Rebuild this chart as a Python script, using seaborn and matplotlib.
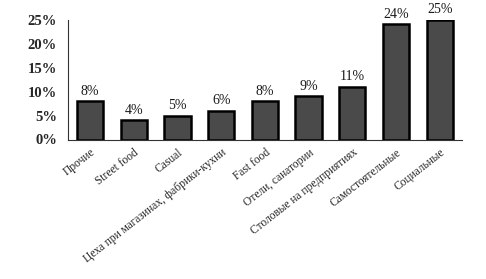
import numpy as np
import matplotlib
matplotlib.use("Agg")
import matplotlib.pyplot as plt
import matplotlib.ticker as mticker
import seaborn as sns

categories = ["Прочие", "Street food", "Casual",
              "Цеха при магазинах, фабрики-кухни", "Fast food",
              "Отели, санатории", "Столовые на предприятиях",
              "Самостоятельные", "Социальные"]
values = [8, 4, 5, 6, 8, 9, 11, 24, 25]

sns.set_style("white")
plt.rcParams['font.family'] = ['Liberation Serif', 'DejaVu Serif']

fig = plt.figure(figsize=(4.86, 2.79), dpi=100)
ax = fig.add_axes([0.14, 0.50, 0.81, 0.43])

sns.barplot(x=categories, y=values, color="#4a4a4a", edgecolor="black",
            linewidth=1.8, width=0.6, saturation=1, ax=ax)

# value labels
for i, v in enumerate(values):
    ax.text(i, v + 0.7, f"{v}%", ha="center", va="bottom", fontsize=10,
            color="#1a1a1a")

ax.set_ylim(0, 25)
ax.set_yticks(np.arange(0, 26, 5))
ax.yaxis.set_major_formatter(mticker.FuncFormatter(lambda v, p: f"{int(v)}%"))
for lab in ax.get_yticklabels():
    lab.set_fontweight("bold")
    lab.set_fontsize(10.5)

ax.set_xticks(range(len(categories)))
ax.set_xticklabels(categories, rotation=38, ha="right", rotation_mode="anchor",
                   fontsize=8.3)
ax.tick_params(axis="x", length=0, pad=5)
ax.tick_params(axis="y", length=0, pad=8)

sns.despine(ax=ax, top=True, right=True)
for s in ["left", "bottom"]:
    ax.spines[s].set_color("#333333")
    ax.spines[s].set_linewidth(0.8)
ax.set_xlabel("")
ax.set_ylabel("")

fig.savefig("out.png", dpi=100)
